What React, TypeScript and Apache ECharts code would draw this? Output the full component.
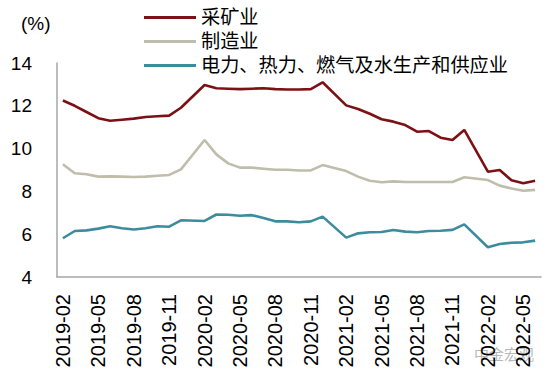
import React, { useEffect, useRef } from "react";
import * as echarts from "echarts";

const months: string[] = [
  "2019-02","2019-03","2019-04","2019-05","2019-06","2019-07","2019-08","2019-09","2019-10","2019-11","2019-12",
  "2020-01","2020-02","2020-03","2020-04","2020-05","2020-06","2020-07","2020-08","2020-09","2020-10","2020-11","2020-12",
  "2021-01","2021-02","2021-03","2021-04","2021-05","2021-06","2021-07","2021-08","2021-09","2021-10","2021-11","2021-12",
  "2022-01","2022-02","2022-03","2022-04","2022-05","2022-06",
];

const mining: (number | null)[] = [
  12.25, 12.0, 11.71, 11.42, 11.3, 11.35, 11.4, 11.48, 11.51, 11.54, 11.91,
  null, 12.97, 12.82, 12.8, 12.78, 12.8, 12.82, 12.78, 12.76, 12.76, 12.78, 13.1,
  null, 12.02, 11.85, 11.63, 11.37, 11.26, 11.1, 10.79, 10.82, 10.51, 10.4, 10.87,
  null, 8.92, 9.0, 8.52, 8.38, 8.5,
];

const manufacturing: (number | null)[] = [
  9.27, 8.85, 8.8, 8.69, 8.7, 8.69, 8.67, 8.69, 8.73, 8.77, 9.03,
  null, 10.4, 9.73, 9.31, 9.11, 9.11, 9.06, 9.01, 9.01, 8.98, 8.98, 9.23,
  null, 8.95, 8.69, 8.5, 8.43, 8.47, 8.44, 8.44, 8.44, 8.44, 8.44, 8.66,
  null, 8.53, 8.27, 8.14, 8.03, 8.07,
];

const utilities: (number | null)[] = [
  5.81, 6.15, 6.18, 6.26, 6.37, 6.28, 6.22, 6.28, 6.37, 6.35, 6.65,
  null, 6.62, 6.92, 6.91, 6.86, 6.89, 6.76, 6.6, 6.6, 6.56, 6.6, 6.82,
  null, 5.84, 6.04, 6.09, 6.1, 6.2, 6.12, 6.09, 6.15, 6.16, 6.2, 6.46,
  null, 5.39, 5.54, 5.6, 5.62, 5.7,
];

const seriesNames = ["采矿业", "制造业", "电力、热力、燃气及水生产和供应业"];
const seriesColors = ["#7c1115", "#bfbdac", "#3d8c9e"];

export default function App() {
  const ref = useRef<HTMLDivElement>(null);
  useEffect(() => {
    if (!ref.current) return;
    const chart = echarts.init(ref.current, undefined, { renderer: "svg" });
    const datas = [mining, manufacturing, utilities];
    chart.setOption({
      animation: false,
      backgroundColor: "#ffffff",
      grid: { left: 57, right: 9, top: 63, bottom: 101, containLabel: false },
      legend: {
        orient: "vertical",
        left: 139,
        top: 1,
        itemWidth: 52,
        itemHeight: 3,
        itemGap: 1,
        icon: "rect",
        textStyle: {
          fontFamily: "'Liberation Sans', 'Noto Sans CJK SC'",
          fontSize: 19.2,
          color: "#000",
          lineHeight: 23,
        },
        data: seriesNames,
      },
      xAxis: {
        type: "category",
        data: months,
        boundaryGap: true,
        axisLine: { show: true, lineStyle: { color: "#a6a6a6", width: 1.5 } },
        axisTick: { show: false },
        axisLabel: {
          interval: 2,
          rotate: 90,
          margin: 17,
          fontSize: 20,
          color: "#000",
          fontFamily: "Liberation Sans",
        },
        splitLine: { show: false },
      },
      yAxis: {
        type: "value",
        min: 4,
        max: 14,
        interval: 2,
        axisLine: { show: true, lineStyle: { color: "#a6a6a6", width: 1.5 } },
        axisTick: { show: false },
        axisLabel: {
          margin: 25,
          fontSize: 19,
          color: "#000",
          fontFamily: "Liberation Sans",
        },
        splitLine: { show: false },
      },
      graphic: [
        {
          type: "text",
          left: 21,
          top: 14,
          style: {
            text: "(%)",
            fontSize: 19,
            fontFamily: "Liberation Sans",
            fill: "#000",
          },
        },
        {
          type: "text",
          left: 474,
          top: 347,
          style: {
            text: "中金宏观",
            fontSize: 15,
            fontFamily: "'Liberation Sans', 'Noto Sans CJK SC'",
            fill: "rgba(120,120,120,0.55)",
          },
        },
      ],
      series: datas.map((d, i) => ({
        name: seriesNames[i],
        type: "line",
        data: d,
        connectNulls: true,
        showSymbol: false,
        symbol: "none",
        smooth: false,
        z: 3 - i,
        lineStyle: { color: seriesColors[i], width: 2.6 },
        itemStyle: { color: seriesColors[i] },
      })),
    });
    return () => chart.dispose();
  }, []);
  return (
    <div
      ref={ref}
      style={{ position: "fixed", left: 0, top: 0, width: 550, height: 378 }}
    />
  );
}
